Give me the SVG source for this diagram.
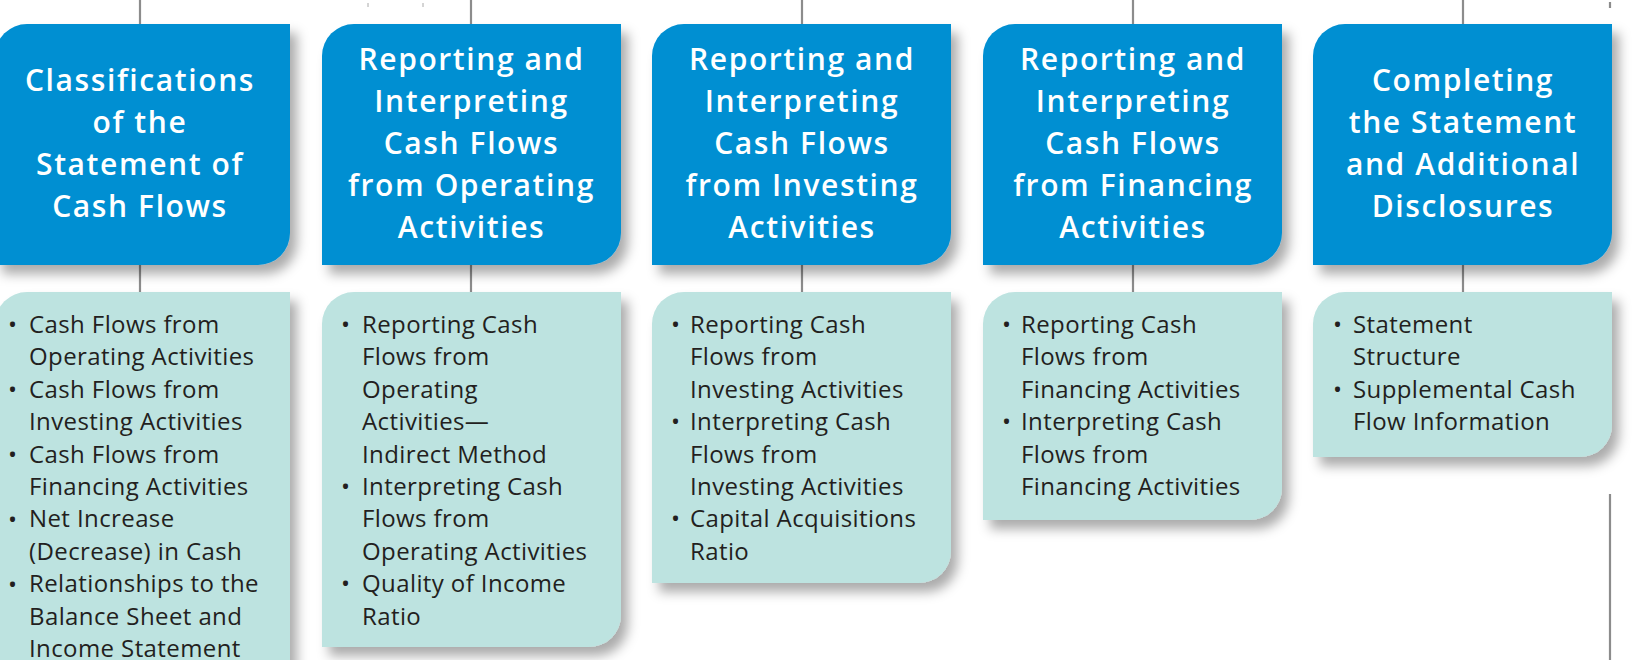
<svg xmlns="http://www.w3.org/2000/svg" width="1641" height="660" viewBox="0 0 1641 660">
<defs>
<filter id="sh" x="-10%" y="-10%" width="130%" height="130%">
<feDropShadow dx="7" dy="9" stdDeviation="6" flood-color="#000" flood-opacity="0.33"/>
</filter>
<style>
.hd{fill:#038fd2;filter:url(#sh)}
.bd{fill:#bde3e0;filter:url(#sh)}
.ht{font-family:"Open Sans",sans-serif;font-weight:600;font-size:30px;fill:#fff;text-anchor:middle;letter-spacing:1.6px}
.bt{font-family:"Open Sans",sans-serif;font-weight:400;font-size:24px;fill:#231f20;letter-spacing:0.4px}
.cn{stroke:#8c8c8c;stroke-width:2.2;fill:none}
</style>
</defs>
<rect width="1641" height="660" fill="#fff"/>
<g id="connectors">
<path class="cn" d="M140,0V24M140,265V292"/>
<path class="cn" d="M471,0V24M471,265V292"/>
<path class="cn" d="M802,0V24M802,265V292"/>
<path class="cn" d="M1133,0V24M1133,265V292"/>
<path class="cn" d="M1463,0V24M1463,265V292"/>
<path class="cn" d="M1610,494V660M1610,2V8" stroke-width="1.6"/>
<path d="M368,3V7M423,3V7" stroke="#aaa" stroke-width="1"/>
</g>
<g id="h1">
<path class="hd" d="M-5,56A32,32 0 0 1 27,24H290V233A32,32 0 0 1 258,265H-5Z"/>
<text class="ht"><tspan x="140" y="91">Classifications</tspan><tspan x="140" y="133">of the</tspan><tspan x="140" y="175">Statement of</tspan><tspan x="140" y="217">Cash Flows</tspan></text>
</g>
<g id="h2">
<path class="hd" d="M322,56A32,32 0 0 1 354,24H621V233A32,32 0 0 1 589,265H322Z"/>
<text class="ht"><tspan x="471.5" y="70">Reporting and</tspan><tspan x="471.5" y="112">Interpreting</tspan><tspan x="471.5" y="154">Cash Flows</tspan><tspan x="471.5" y="196">from Operating</tspan><tspan x="471.5" y="238">Activities</tspan></text>
</g>
<g id="h3">
<path class="hd" d="M652,56A32,32 0 0 1 684,24H951V233A32,32 0 0 1 919,265H652Z"/>
<text class="ht"><tspan x="802" y="70">Reporting and</tspan><tspan x="802" y="112">Interpreting</tspan><tspan x="802" y="154">Cash Flows</tspan><tspan x="802" y="196">from Investing</tspan><tspan x="802" y="238">Activities</tspan></text>
</g>
<g id="h4">
<path class="hd" d="M983,56A32,32 0 0 1 1015,24H1282V233A32,32 0 0 1 1250,265H983Z"/>
<text class="ht"><tspan x="1133" y="70">Reporting and</tspan><tspan x="1133" y="112">Interpreting</tspan><tspan x="1133" y="154">Cash Flows</tspan><tspan x="1133" y="196">from Financing</tspan><tspan x="1133" y="238">Activities</tspan></text>
</g>
<g id="h5">
<path class="hd" d="M1313,56A32,32 0 0 1 1345,24H1612V233A32,32 0 0 1 1580,265H1313Z"/>
<text class="ht"><tspan x="1463" y="91">Completing</tspan><tspan x="1463" y="133">the Statement</tspan><tspan x="1463" y="175">and Additional</tspan><tspan x="1463" y="217">Disclosures</tspan></text>
</g>
<g id="b1">
<path class="bd" d="M-5,324A32,32 0 0 1 27,292H290V700H-5Z"/>
<text class="bt"><tspan x="8" y="333">•</tspan><tspan x="8" y="398">•</tspan><tspan x="8" y="463">•</tspan><tspan x="8" y="528">•</tspan><tspan x="8" y="593">•</tspan></text>
<text class="bt"><tspan x="29" y="333">Cash Flows from</tspan><tspan x="29" y="365.4">Operating Activities</tspan><tspan x="29" y="397.8">Cash Flows from</tspan><tspan x="29" y="430.2">Investing Activities</tspan><tspan x="29" y="462.6">Cash Flows from</tspan><tspan x="29" y="495">Financing Activities</tspan><tspan x="29" y="527.4">Net Increase</tspan><tspan x="29" y="559.8">(Decrease) in Cash</tspan><tspan x="29" y="592.2">Relationships to the</tspan><tspan x="29" y="624.6">Balance Sheet and</tspan><tspan x="29" y="657">Income Statement</tspan></text>
</g>
<g id="b2">
<path class="bd" d="M322,324A32,32 0 0 1 354,292H621V615A32,32 0 0 1 589,647H322Z"/>
<text class="bt"><tspan x="341" y="333">•</tspan><tspan x="341" y="495">•</tspan><tspan x="341" y="592.2">•</tspan></text>
<text class="bt"><tspan x="362" y="333">Reporting Cash</tspan><tspan x="362" y="365.4">Flows from</tspan><tspan x="362" y="397.8">Operating</tspan><tspan x="362" y="430.2">Activities—</tspan><tspan x="362" y="462.6">Indirect Method</tspan><tspan x="362" y="495">Interpreting Cash</tspan><tspan x="362" y="527.4">Flows from</tspan><tspan x="362" y="559.8">Operating Activities</tspan><tspan x="362" y="592.2">Quality of Income</tspan><tspan x="362" y="624.6">Ratio</tspan></text>
</g>
<g id="b3">
<path class="bd" d="M652,324A32,32 0 0 1 684,292H951V551A32,32 0 0 1 919,583H652Z"/>
<text class="bt"><tspan x="671" y="333">•</tspan><tspan x="671" y="430.2">•</tspan><tspan x="671" y="527.4">•</tspan></text>
<text class="bt"><tspan x="690" y="333">Reporting Cash</tspan><tspan x="690" y="365.4">Flows from</tspan><tspan x="690" y="397.8">Investing Activities</tspan><tspan x="690" y="430.2">Interpreting Cash</tspan><tspan x="690" y="462.6">Flows from</tspan><tspan x="690" y="495">Investing Activities</tspan><tspan x="690" y="527.4">Capital Acquisitions</tspan><tspan x="690" y="559.8">Ratio</tspan></text>
</g>
<g id="b4">
<path class="bd" d="M983,324A32,32 0 0 1 1015,292H1282V488A32,32 0 0 1 1250,520H983Z"/>
<text class="bt"><tspan x="1002" y="333">•</tspan><tspan x="1002" y="430.2">•</tspan></text>
<text class="bt"><tspan x="1021" y="333">Reporting Cash</tspan><tspan x="1021" y="365.4">Flows from</tspan><tspan x="1021" y="397.8">Financing Activities</tspan><tspan x="1021" y="430.2">Interpreting Cash</tspan><tspan x="1021" y="462.6">Flows from</tspan><tspan x="1021" y="495">Financing Activities</tspan></text>
</g>
<g id="b5">
<path class="bd" d="M1313,324A32,32 0 0 1 1345,292H1612V425A32,32 0 0 1 1580,457H1313Z"/>
<text class="bt"><tspan x="1333" y="333">•</tspan><tspan x="1333" y="397.8">•</tspan></text>
<text class="bt"><tspan x="1353" y="333">Statement</tspan><tspan x="1353" y="365.4">Structure</tspan><tspan x="1353" y="397.8">Supplemental Cash</tspan><tspan x="1353" y="430.2">Flow Information</tspan></text>
</g>
</svg>
